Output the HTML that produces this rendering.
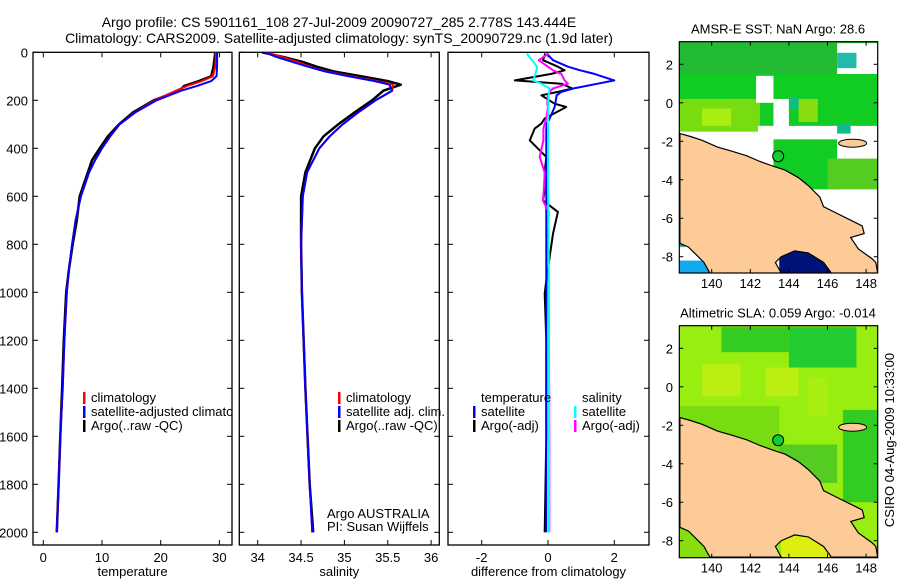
<!DOCTYPE html>
<html><head><meta charset="utf-8">
<style>
body{margin:0;background:#fff;}
svg{display:block;font-family:"Liberation Sans",sans-serif;}
</style></head>
<body>
<svg id="fig" width="900" height="580" viewBox="0 0 900 580" xmlns="http://www.w3.org/2000/svg">
<text x="339" y="27" font-size="14" text-anchor="middle">Argo profile: CS 5901161_108 27-Jul-2009 20090727_285 2.778S 143.444E</text>
<text x="339" y="43" font-size="14" text-anchor="middle">Climatology: CARS2009. Satellite-adjusted climatology: synTS_20090729.nc (1.9d later)</text>
<g id="p1"></g>
<g id="p2"></g>
<g id="p3"></g>
<g id="m1"></g>
<g id="m2"></g>
<text transform="translate(894,440) rotate(-90)" font-size="13" text-anchor="middle">CSIRO 04-Aug-2009 10:33:00</text>
</svg>
<script>
// ---- data ----
const depthT = [0,60,100,120,140,160,200,250,300,350,400,450,500,600,700,800,900,1000,1200,1400,1600,1800,2000];
const tempClim = [29.4,29.3,28.9,27.0,24.5,22.6,19.0,15.6,13.0,11.4,10.0,8.8,7.8,6.4,5.5,4.9,4.4,4.0,3.6,3.3,2.9,2.6,2.3];
const tempSat  = [29.6,29.6,29.5,28.6,26.2,23.5,19.3,15.7,13.0,11.4,10.0,8.8,7.8,6.4,5.5,4.9,4.4,4.0,3.6,3.3,2.9,2.6,2.3];
const tempArgo = [29.3,29.0,28.6,26.5,24.0,23.2,18.8,15.3,12.9,11.0,9.6,8.3,7.6,6.2,5.7,5.0,4.4,3.9,3.5,3.2,2.9,2.6,2.3];
const depthS = [0,20,40,60,80,100,120,135,160,200,250,300,350,400,500,600,800,1000,1400,1800,2000];
const salClim = [34.1,34.28,34.46,34.6,34.8,35.08,35.38,35.56,35.55,35.36,35.16,34.98,34.83,34.71,34.57,34.52,34.5,34.51,34.55,34.6,34.63];
const salSat  = [34.08,34.22,34.4,34.58,34.78,35.05,35.35,35.52,35.55,35.36,35.16,34.98,34.83,34.71,34.57,34.52,34.5,34.51,34.55,34.6,34.63];
const salArgo = [34.05,34.3,34.52,34.68,34.88,35.2,35.5,35.65,35.45,35.32,35.12,34.93,34.76,34.66,34.55,34.5,34.5,34.51,34.55,34.6,34.64];
const depthD = [5,33,60,75,90,117,131,151,165,179,214,228,276,297,318,367,436,500,561,617,665,756,950,1006,1200,1600,2000];
const dTempSat  = [-0.04,0.15,0.6,0.97,1.4,2.0,1.5,0.76,0.4,0.26,0.22,0.2,0.05,-0.04,-0.05,-0.05,-0.05,-0.05,-0.05,-0.05,-0.05,-0.05,-0.05,-0.05,-0.05,-0.05,-0.05];
const dSalSat   = [-0.64,-0.48,-0.33,-0.35,-0.38,-0.45,-0.2,0.05,0.03,0.02,0.01,0.01,0.0,0.0,0.0,0.0,0.0,0.0,0.0,0.01,0.01,0.02,0.02,0.02,0.03,0.03,0.03];
const dSalArgo  = [0.02,-0.28,0.0,0.15,0.4,0.5,0.6,0.15,0.05,0.0,-0.02,0.0,-0.05,-0.1,-0.14,-0.14,-0.25,-0.1,-0.12,-0.15,0.02,0.0,0.02,0.02,0.03,0.04,0.04];
const dTempArgo = [-0.08,-0.15,0.3,0.5,0.1,-1.0,0.4,0.74,0.3,-0.2,0.2,0.55,-0.1,-0.2,-0.4,-0.55,-0.05,-0.1,-0.08,-0.15,0.3,0.15,-0.05,-0.1,-0.05,-0.05,-0.1];
const tTicks=[0,10,20,30], sTicks=[34,34.5,35,35.5,36], dTicks=[-2,0,2], zTicks=[0,200,400,600,800,1000,1200,1400,1600,1800,2000];

const NS="http://www.w3.org/2000/svg";
function mk(parent,tag,attrs,text){const e=document.createElementNS(NS,tag);for(const k in attrs)e.setAttribute(k,attrs[k]);if(text!==undefined)e.textContent=text;parent.appendChild(e);return e;}
const yD = d => 52.3 + d*0.24;
const TOP=52.3, BOT=545;

function panel(g,x0,x1,xs,ticks,xlabel,ylabels){
  const r=mk(g,'rect',{x:x0,y:TOP,width:x1-x0,height:BOT-TOP,fill:'none',stroke:'#000','stroke-width':1.3});
  
  
  ticks.forEach(t=>{const x=xs(t);
    mk(g,'line',{x1:x,x2:x,y1:BOT,y2:BOT-5,stroke:'#000'});
    mk(g,'line',{x1:x,x2:x,y1:TOP,y2:TOP+5,stroke:'#000'});
    const tl=mk(g,'text',{x:x,y:562,'font-size':13,'text-anchor':'middle'},String(t));
    
    
  });
  zTicks.forEach(z=>{const y=yD(z);
    mk(g,'line',{x1:x0,x2:x0+5,y1:y,y2:y,stroke:'#000'});
    mk(g,'line',{x1:x1,x2:x1-5,y1:y,y2:y,stroke:'#000'});
    if(ylabels){const tl=mk(g,'text',{x:x0-5,y:y+5,'font-size':13,'text-anchor':'end'},String(z));
      
      }
  });
  const xl=mk(g,'text',{x:(x0+x1)/2,y:576,'font-size':13,'text-anchor':'middle'},xlabel);
  
  
}
function line(g,xs,depths,vals,color,w,name,clip){
  const pts=depths.map((d,i)=>xs(vals[i]).toFixed(1)+','+yD(d).toFixed(1)).join(' ');
  const p=mk(g,'polyline',{points:pts,fill:'none',stroke:color,'stroke-width':w,'stroke-linejoin':'round'});
  if(clip)p.setAttribute('clip-path',clip);
  
  
}
function legend(g,x,y,color,label,name){
  if(color)mk(g,'rect',{x:x,y:y-10,width:2.5,height:12,fill:color});
  const t=mk(g,'text',{x:x+8,y:y,'font-size':13},label);
  
  
}
const fig=document.getElementById('fig');
const defs=mk(fig,'defs',{});
[['c1',33,232],['c2',239,439],['c3',448,649]].forEach(([id,a,b])=>{const cp=mk(defs,'clipPath',{id:id});mk(cp,'rect',{x:a,y:TOP,width:b-a,height:BOT-TOP});});

// panel 1
const g1=document.getElementById('p1');
const xT=t=>43.3+t*5.87;
panel(g1,33,232,xT,tTicks,'temperature',true);
line(g1,xT,depthT,tempArgo,'#000',2.5,'argo-temperature-line','url(#c1)');
line(g1,xT,depthT,tempClim,'#f00',2,'climatology-temperature-line','url(#c1)');
line(g1,xT,depthT,tempSat,'#00f',2,'satellite-temperature-line','url(#c1)');
const lg1=mk(g1,'g',{'clip-path':'url(#c1)'});
legend(lg1,83,402,'#f00','climatology','legend-climatology');
legend(lg1,83,416,'#00f','satellite-adjusted climatology','legend-satellite-adjusted');
legend(lg1,83,430,'#000','Argo(..raw -QC)','legend-argo');

// panel 2
const g2=document.getElementById('p2');
const xS=s=>257.7+(s-34)*86.7;
panel(g2,239.3,439.3,xS,sTicks,'salinity',false);
line(g2,xS,depthS,salArgo,'#000',2.5,'argo-salinity-line','url(#c2)');
line(g2,xS,depthS,salClim,'#f00',2,'climatology-salinity-line','url(#c2)');
line(g2,xS,depthS,salSat,'#00f',2,'satellite-salinity-line','url(#c2)');
legend(g2,338,402,'#f00','climatology','legend-climatology');
legend(g2,338,416,'#00f','satellite adj. clim.','legend-satellite-adj');
legend(g2,338,430,'#000','Argo(..raw -QC)','legend-argo');
legend(g2,319,518,null,'Argo AUSTRALIA','argo-australia-note');
legend(g2,319,531,null,'PI: Susan Wijffels','pi-note');

// panel 3
const g3=document.getElementById('p3');
const xDf=v=>548+v*33.15;
panel(g3,448,649,xDf,dTicks,'difference from climatology',false);
line(g3,xDf,depthD,dTempArgo,'#000',2,'argo-temperature-diff-line','url(#c3)');
line(g3,xDf,depthD,dTempSat,'#00f',2,'satellite-temperature-diff-line','url(#c3)');
line(g3,xDf,depthD,dSalArgo,'#f0f',2,'argo-salinity-diff-line','url(#c3)');
line(g3,xDf,depthD,dSalSat,'#0ff',2,'satellite-salinity-diff-line','url(#c3)');
legend(g3,473,402,null,'temperature','legend-temperature-header');
legend(g3,473,416,'#00f','satellite','legend-temp-satellite');
legend(g3,473,430,'#000','Argo(-adj)','legend-temp-argo');
legend(g3,574,402,null,'salinity','legend-salinity-header');
legend(g3,574,416,'#0ff','satellite','legend-sal-satellite');
legend(g3,574,430,'#f0f','Argo(-adj)','legend-sal-argo');

// maps
const coast=[[138.35,-1.6],[138.9,-1.75],[139.5,-1.95],[140.3,-2.3],[141,-2.5],[141.8,-2.75],[142.5,-3.05],[143.2,-3.3],[143.8,-3.5],[144.5,-3.9],[145,-4.3],[145.6,-4.9],[145.8,-5.4],[146.4,-5.7],[147.2,-6.1],[147.8,-6.4],[147.9,-6.8],[147.2,-7.0],[147.6,-7.6],[148.3,-8.1],[148.5,-8.3],[148.6,-8.85],[146.2,-8.85],[145.8,-8.3],[145,-7.8],[144.3,-7.7],[143.6,-8.0],[143.3,-8.3],[143.6,-8.85],[139.9,-8.85],[139.6,-8.3],[139.2,-7.9],[138.8,-7.5],[138.35,-7.3]];
function map(g,top,bot,lat0,title,regions,cid){
  const X=lo=>711.7+(lo-140)*19.3, Y=la=>lat0-la*19.24;
  const cp=mk(defs,'clipPath',{id:cid});mk(cp,'rect',{x:679.3,y:top,width:198.4,height:bot-top});
  const inner=mk(g,'g',{'clip-path':'url(#'+cid+')'});
  regions.forEach(([lo1,la1,lo2,la2,c])=>mk(inner,'rect',{x:X(lo1),y:Y(la1),width:X(lo2)-X(lo1),height:Y(la2)-Y(la1),fill:c}));
  const land=mk(inner,'polygon',{points:coast.map(p=>X(p[0]).toFixed(1)+','+Y(p[1]).toFixed(1)).join(' '),fill:'#fccb98',stroke:'#000','stroke-width':1.2});
  
  
  mk(inner,'ellipse',{cx:X(147.3),cy:Y(-2.1),rx:14,ry:4,fill:'#fccb98',stroke:'#000'});
  const pt=mk(inner,'circle',{cx:X(143.444),cy:Y(-2.778),r:5.5,fill:'#1c3',stroke:'#000'});
  
  
  mk(g,'rect',{x:679.3,y:top,width:198.4,height:bot-top,fill:'none',stroke:'#000','stroke-width':1.2});
  [140,142,144,146,148].forEach(lo=>{const x=X(lo);mk(g,'line',{x1:x,x2:x,y1:bot,y2:bot-4,stroke:'#000'});mk(g,'line',{x1:x,x2:x,y1:top,y2:top+4,stroke:'#000'});
    const t=mk(g,'text',{x:x,y:bot+15,'font-size':13,'text-anchor':'middle'},String(lo));});
  [2,0,-2,-4,-6,-8].forEach(la=>{const y=Y(la);mk(g,'line',{x1:679.3,x2:683.3,y1:y,y2:y,stroke:'#000'});mk(g,'line',{x1:877.7,x2:873.7,y1:y,y2:y,stroke:'#000'});
    const t=mk(g,'text',{x:673,y:y+5,'font-size':13,'text-anchor':'end'},String(la));});
  const tt=mk(g,'text',{x:778,y:top-8,'font-size':13,'text-anchor':'middle'},title);
  
  
}
map(document.getElementById('m1'),41.7,273,102.8,'AMSR-E SST: NaN Argo: 28.6',[
 [138,4,149,-10,'#ffffff'],
 [138,4,149,-1.2,'#11cc22'],
 [138,4,149,1.5,'#22bb33'],
 [138.3,0.2,142.5,-1.5,'#77dd11'],
 [139.5,-0.3,141,-1.2,'#aaee11'],
 [142.3,1.4,143.2,0,'#ffffff'],
 [143.2,0.2,144,-2.2,'#ffffff'],
 [142.4,-1.2,143.2,-1.8,'#ffffff'],
 [143.2,-1.9,146.5,-4.5,'#11cc22'],
 [144.5,0.2,145.5,-1,'#88dd11'],
 [146,-2.9,148.6,-4.5,'#55cc22'],
 [146.5,3.1,148.6,1.5,'#ffffff'],
 [146.5,2.6,147.5,1.8,'#22bbaa'],
 [144,0.3,144.5,-0.3,'#11bb88'],
 [146.5,-1.1,147.2,-1.6,'#11bb88'],
 [138.3,-6.3,138.6,-7.5,'#22aa99'],
 [138.3,-8.2,140.2,-8.9,'#11aaee'],
 [143.5,-7.5,146.2,-8.9,'#001177']
],'cm1');
map(document.getElementById('m2'),325.7,557.7,386.8,'Altimetric SLA: 0.059 Argo: -0.014',[
 [138,4,149,-10,'#99ee11'],
 [140.5,3.1,144,1.8,'#33cc22'],
 [144,3.1,147.5,1.0,'#22cc33'],
 [139.5,1.2,141.5,-0.5,'#bbee11'],
 [142.8,1,144.5,-0.5,'#bbee11'],
 [145,0.5,146,-1.5,'#aaee11'],
 [146.8,-1.2,148.6,-6,'#33cc22'],
 [138.3,-1,143.5,-3.3,'#77dd11'],
 [143.5,-3,146.5,-5,'#55cc22'],
 [143.6,-7.7,146.2,-8.9,'#ddee11'],
 [138.3,-7.3,139.8,-8.9,'#88dd11']
],'cm2');
</script>
</body></html>
